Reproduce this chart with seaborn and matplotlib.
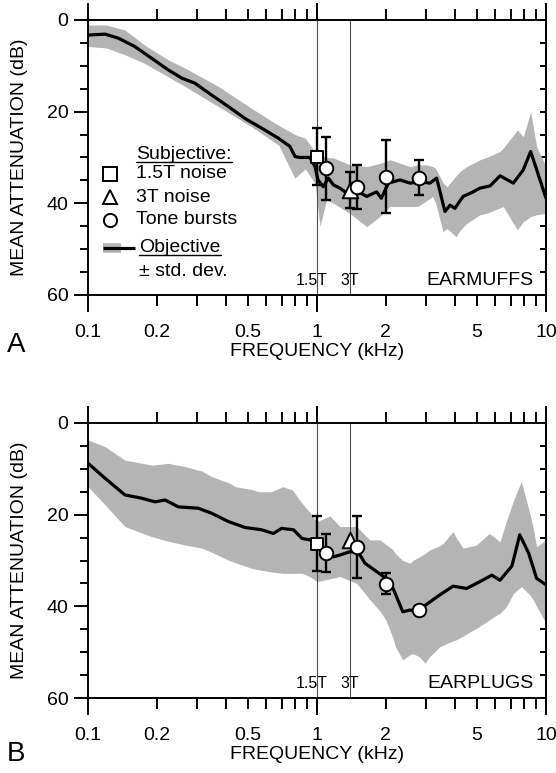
import matplotlib
matplotlib.use('Agg')
import matplotlib.pyplot as plt
from matplotlib.ticker import FixedLocator, MultipleLocator
import seaborn as sns

sns.set_theme(style='ticks', rc={'axes.edgecolor': 'black', 'xtick.color': 'black',
                                 'ytick.color': 'black', 'text.color': 'black',
                                 'axes.labelcolor': 'black'})
plt.rcParams['font.family'] = ['Liberation Sans', 'DejaVu Sans']

# ---- Panel A: earmuffs ----
freq_a = [0.10, 0.119, 0.136, 0.160, 0.190, 0.224, 0.257, 0.293, 0.347, 0.410,
          0.485, 0.573, 0.678, 0.762, 0.802, 0.843, 0.93, 0.98, 1.01, 1.065,
          1.12, 1.18, 1.26, 1.35, 1.42, 1.51, 1.65, 1.82, 1.91, 2.05,
          2.30, 2.55, 2.82, 3.11, 3.33, 3.62, 3.81, 4.00, 4.14, 4.35,
          4.81, 5.15, 5.70, 6.30, 7.20, 7.96, 8.57, 9.11, 10.0]
mean_a = [3.3, 3.1, 4.0, 5.8, 8.4, 10.9, 12.7, 13.8, 16.4, 18.9,
          21.5, 23.6, 25.8, 27.6, 29.8, 30.0, 30.0, 32.0, 34.9, 36.4,
          34.5, 36.0, 36.7, 37.8, 37.5, 37.5, 38.5, 37.5, 38.9, 35.6,
          34.9, 35.6, 35.3, 35.6, 34.5, 41.8, 40.4, 41.1, 40.0, 38.5,
          37.5, 36.7, 36.2, 34.0, 35.6, 32.7, 28.7, 32.7, 38.9]
band_freq_a = [0.10, 0.12, 0.145, 0.177, 0.224, 0.265, 0.371, 0.518, 0.68, 0.80,
               0.888, 0.98, 1.03, 1.10, 1.18, 1.39, 1.65, 1.88, 2.08, 2.55,
               2.75, 3.0, 3.2, 3.3, 3.55, 3.7, 4.05, 4.2, 4.5, 5.15,
               5.5, 6.3, 6.5, 7.5, 7.96, 8.57, 9.1, 10.0]
band_top_a = [1.1, 1.1, 2.2, 5.5, 8.7, 10.5, 14.5, 19.3, 23.0, 25.0,
              25.8, 28.7, 29.5, 30.0, 30.1, 31.6, 32.0, 31.3, 30.5, 32.0,
              31.6, 31.6, 32.0, 32.4, 35.5, 36.4, 34.0, 33.1, 32.0, 30.5,
              30.0, 28.7, 28.0, 24.0, 25.5, 20.0, 27.6, 32.0]
band_bot_a = [5.8, 6.1, 7.6, 9.5, 12.4, 14.5, 18.9, 23.3, 27.3, 34.5,
              32.5, 35.6, 45.0, 39.3, 40.0, 42.2, 45.1, 42.9, 40.7, 40.7,
              40.7, 39.5, 38.5, 40.0, 46.2, 45.5, 47.3, 46.0, 44.4, 42.5,
              42.2, 41.0, 40.7, 45.8, 44.0, 42.9, 42.5, 42.2]
sq_a = (1.0, 29.8, 6.2)
tri_a = (1.4, 37.1, 4.0)
circ_f_a = [1.1, 1.5, 2.0, 2.8]
circ_m_a = [32.4, 36.4, 34.2, 34.4]
circ_e_a = [6.9, 4.8, 8.0, 3.8]

# ---- Panel B: earplugs ----
freq_b = [0.10, 0.119, 0.145, 0.171, 0.196, 0.217, 0.248, 0.303, 0.347, 0.410,
          0.485, 0.573, 0.645, 0.70, 0.79, 0.86, 0.93, 1.0, 1.1, 1.18,
          1.26, 1.39, 1.51, 1.62, 1.82, 2.0, 2.15, 2.37, 2.55, 2.73,
          3.06, 3.44, 3.93, 4.5, 5.15, 5.80, 6.30, 7.1, 7.68, 8.4,
          9.1, 10.0]
mean_b = [8.8, 12.1, 15.7, 16.4, 17.2, 16.8, 18.3, 18.6, 19.7, 21.5,
          22.8, 23.3, 24.1, 23.0, 23.3, 25.2, 25.5, 26.3, 28.4, 29.2,
          28.8, 28.1, 28.1, 30.6, 32.4, 33.9, 36.1, 41.2, 40.8, 41.2,
          39.3, 37.5, 35.6, 36.1, 34.6, 33.2, 34.3, 31.2, 24.4, 28.4,
          33.9, 35.3]
band_freq_b = [0.10, 0.119, 0.145, 0.19, 0.224, 0.265, 0.314, 0.347, 0.41, 0.44,
               0.518, 0.555, 0.63, 0.71, 0.78, 0.86, 0.93, 1.0, 1.14, 1.26,
               1.49, 1.70, 1.88, 2.0, 2.15, 2.2, 2.37, 2.55, 2.62, 2.8,
               2.96, 3.1, 3.44, 3.55, 3.93, 4.05, 4.35, 4.8, 4.97, 5.65,
               5.9, 6.3, 6.7, 6.9, 7.2, 7.8, 8.5, 8.8, 9.1, 10.0]
band_top_b = [3.7, 5.2, 8.1, 9.2, 8.8, 9.5, 10.5, 11.7, 13.0, 13.9,
              14.5, 15.0, 15.0, 13.9, 14.6, 17.5, 19.5, 21.5, 20.3, 22.6,
              22.6, 25.5, 25.5, 26.5, 27.7, 28.5, 30.0, 30.6, 30.0, 29.2,
              28.5, 27.7, 26.8, 26.3, 23.7, 25.0, 27.3, 26.8, 26.6, 24.1,
              24.8, 25.9, 21.5, 19.7, 17.0, 12.8, 19.7, 23.0, 27.0, 25.5]
band_bot_b = [13.9, 17.9, 22.6, 24.8, 25.8, 26.6, 27.3, 28.2, 29.9, 30.5,
              31.7, 32.0, 32.5, 32.8, 32.8, 32.8, 33.5, 34.6, 34.0, 33.5,
              35.0, 38.5, 41.0, 43.0, 47.0, 48.8, 51.7, 50.5, 50.3, 51.0,
              52.4, 51.0, 48.8, 48.5, 47.5, 47.3, 46.5, 45.2, 44.8, 43.0,
              42.3, 41.5, 40.1, 39.0, 37.2, 35.7, 37.5, 38.6, 40.0, 43.7]
sq_b = (1.0, 26.3, 6.0)
tri_b = (1.4, 25.5, 0.0)
circ_f_b = [1.1, 1.5, 2.0, 2.8]
circ_m_b = [28.4, 27.1, 35.1, 40.8]
circ_e_b = [4.1, 6.8, 2.3, 0.8]

minor_ticks = [0.2, 0.3, 0.4, 0.5, 0.6, 0.7, 0.8, 0.9, 2, 3, 4, 5, 6, 7, 8, 9]
minor_labels = ['0.2', '', '', '0.5', '', '', '', '', '2', '', '', '5', '', '', '', '']

FS = 14
BAND = '#b4b4b4'
LW = 1.4


def panel(ax, freq, mean, bfreq, btop, bbot, sq, tri, cf, cm, ce, name):
    ax.set_xscale('log')
    ax.fill_between(bfreq, btop, bbot, color=BAND, lw=0, zorder=1)
    for f in (1.0, 1.4):
        ax.axvline(f, color='#505050', lw=0.8, zorder=2)
    sns.lineplot(x=freq, y=mean, ax=ax, color='black', lw=2.3,
                 estimator=None, sort=False, zorder=3)

    # subjective points with error bars
    for (f, m, e), mk, s in ((sq, 's', 85), (tri, '^', 125)):
        if e > 0:
            ax.errorbar([f], [m], yerr=[e], fmt='none', ecolor='black',
                        elinewidth=1.7, capsize=3.5, capthick=1.7, zorder=4)
        sns.scatterplot(x=[f], y=[m], ax=ax, marker=mk, s=s, color='white',
                        edgecolor='black', linewidth=1.4, zorder=6)
    ax.errorbar(cf, cm, yerr=ce, fmt='none', ecolor='black',
                elinewidth=1.7, capsize=3.5, capthick=1.7, zorder=4)
    sns.scatterplot(x=cf, y=cm, ax=ax, marker='o', s=95, color='white',
                    edgecolor='black', linewidth=1.4, zorder=6)

    ax.set_xlim(0.1, 10)
    ax.set_ylim(60, 0)
    ax.xaxis.set_major_locator(FixedLocator([0.1, 1, 10]))
    ax.set_xticks([0.1, 1, 10], labels=['0.1', '1', '10'])
    ax.set_xticks(minor_ticks, labels=minor_labels, minor=True)
    ax.yaxis.set_major_locator(MultipleLocator(20))
    ax.yaxis.set_minor_locator(MultipleLocator(5))
    ax.tick_params(axis='x', which='major', direction='out', length=12, width=LW,
                   pad=9, labelsize=FS, top=True, bottom=True)
    ax.tick_params(axis='x', which='minor', direction='out', length=8, width=LW,
                   pad=13, labelsize=FS, top=True, bottom=True)
    ax.tick_params(axis='y', which='major', direction='out', length=10, width=LW,
                   pad=4, labelsize=FS, left=True, right=False)
    ax.tick_params(axis='y', which='minor', direction='out', length=6, width=LW,
                   left=True, right=False)
    for s in ax.spines.values():
        s.set_linewidth(LW)
    sec = ax.secondary_yaxis('right')
    sec.yaxis.set_major_locator(MultipleLocator(5))
    sec.tick_params(direction='in', length=4, width=LW, labelright=False)
    sec.spines['right'].set_linewidth(LW)

    ax.set_xlabel('FREQUENCY (kHz)', fontsize=FS)
    ax.set_ylabel('MEAN ATTENUATION (dB)', fontsize=FS)
    ax.xaxis.set_label_coords(0.5, -0.175)
    ax.yaxis.set_label_coords(-0.132, 0.5)

    ax.text(0.95, 56.8, '1.5T', fontsize=11.5, ha='center', va='center')
    ax.text(1.39, 56.8, '3T', fontsize=11.5, ha='center', va='center')
    ax.text(0.972, 0.052, name, transform=ax.transAxes, fontsize=FS,
            ha='right', va='center')


fig = plt.figure(figsize=(5.56, 7.73), dpi=100)
ax_a = fig.add_axes([0.1583, 0.6184, 0.8237, 0.3558])
ax_b = fig.add_axes([0.1583, 0.0970, 0.8237, 0.3558])
panel(ax_a, freq_a, mean_a, band_freq_a, band_top_a, band_bot_a,
      sq_a, tri_a, circ_f_a, circ_m_a, circ_e_a, 'EARMUFFS')
panel(ax_b, freq_b, mean_b, band_freq_b, band_top_b, band_bot_b,
      sq_b, tri_b, circ_f_b, circ_m_b, circ_e_b, 'EARPLUGS')

fig.text(0.012, 0.545, 'A', fontsize=20, va='baseline')
fig.text(0.012, 0.015, 'B', fontsize=20, va='baseline')

# legend drawn by hand inside panel A
tr = ax_a.transAxes
kw = dict(transform=tr, fontsize=FS, va='center', ha='left')
t_sub = ax_a.text(0.105, 0.509, 'Subjective:', **kw)
rows = [('s', '1.5T noise', 0.440), ('^', '3T noise', 0.356), ('o', 'Tone bursts', 0.273)]
for mk, lab, y in rows:
    ax_a.plot([0.048], [y], marker=mk, ms=9.5, mfc='white', mec='black', mew=1.4,
              transform=tr, clip_on=False, zorder=7)
    ax_a.text(0.105, y, lab, **kw)
ax_a.plot([0.033, 0.072], [0.171, 0.171], color=BAND, lw=7, transform=tr,
          solid_capstyle='butt', zorder=6)
ax_a.plot([0.033, 0.103], [0.171, 0.171], color='black', lw=2.3, transform=tr,
          solid_capstyle='butt', zorder=7)
t_obj = ax_a.text(0.112, 0.171, 'Objective', **kw)
ax_a.text(0.112, 0.084, '\u00b1 std. dev.', **kw)

# underline the two headings just below their baselines
fig.canvas.draw()
inv = ax_a.transAxes.inverted()
desc = 0.212 * FS * fig.dpi / 72
for t in (t_sub, t_obj):
    bb = t.get_window_extent()
    ypx = bb.y0 + desc - 2.5
    (x0, y0), (x1, _) = inv.transform([[bb.x0, ypx], [bb.x1, ypx]])
    ax_a.plot([x0, x1], [y0, y0], color='black', lw=1.0, transform=tr, zorder=7)

fig.savefig('out.png', dpi=100)
